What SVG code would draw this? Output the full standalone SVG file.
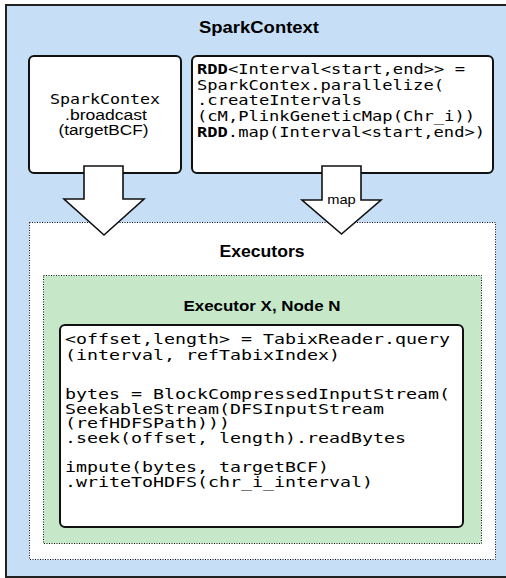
<svg xmlns="http://www.w3.org/2000/svg" width="506" height="578" viewBox="0 0 506 578">
  <style>
    .title { font-family: "Liberation Sans", Arial, sans-serif; font-weight: bold; fill: #000; text-anchor: middle; }
    .sans { font-family: "Liberation Sans", Arial, sans-serif; fill: #000; }
    .mono { font-family: "DejaVu Sans Mono", "Liberation Mono", monospace; fill: #000; }
    .box { fill: #fff; stroke: #111; stroke-width: 2; }
    .dotted { stroke: #111; stroke-width: 1; stroke-dasharray: 1 1.5; }
    .arrow { fill: #fff; stroke: #111; stroke-width: 1.6; stroke-linejoin: miter; }
  </style>

  <!-- driver container -->
  <g id="spark-context">
    <rect x="6" y="5" width="510" height="572" fill="#c6dff6" stroke="#222" stroke-width="2"/>
    <text class="title" x="259" y="33" font-size="16" textLength="120" lengthAdjust="spacingAndGlyphs">SparkContext</text>
  </g>

  <!-- executors container -->
  <g id="executors">
    <rect class="dotted" x="29.5" y="222.5" width="466" height="337" fill="#fff"/>
    <text class="title" x="262" y="257" font-size="16" textLength="85" lengthAdjust="spacingAndGlyphs">Executors</text>
  </g>

  <!-- single executor -->
  <g id="executor-node">
    <rect class="dotted" x="43.5" y="275.5" width="438" height="268" fill="#c6e8c9"/>
    <text class="title" x="262" y="310.5" font-size="15" textLength="157" lengthAdjust="spacingAndGlyphs">Executor X, Node N</text>
  </g>

  <!-- per-interval work -->
  <g id="executor-task">
    <rect class="box" x="60" y="325" width="403" height="202" rx="5"/>
    <g class="mono" font-size="14">
      <text x="65" y="344" textLength="385" lengthAdjust="spacingAndGlyphs">&lt;offset,length&gt; = TabixReader.query</text>
      <text x="65" y="359.5" textLength="275" lengthAdjust="spacingAndGlyphs">(interval, refTabixIndex)</text>
      <text x="65" y="398.5" textLength="385" lengthAdjust="spacingAndGlyphs">bytes = BlockCompressedInputStream(</text>
      <text x="65" y="413.5" textLength="319" lengthAdjust="spacingAndGlyphs">SeekableStream(DFSInputStream</text>
      <text x="65" y="428" textLength="165" lengthAdjust="spacingAndGlyphs">(refHDFSPath)))</text>
      <text x="65" y="442.5" textLength="341" lengthAdjust="spacingAndGlyphs">.seek(offset, length).readBytes</text>
      <text x="65" y="472" textLength="264" lengthAdjust="spacingAndGlyphs">impute(bytes, targetBCF)</text>
      <text x="65" y="487" textLength="308" lengthAdjust="spacingAndGlyphs">.writeToHDFS(chr_i_interval)</text>
    </g>
  </g>

  <!-- broadcast of the target file -->
  <g id="broadcast">
    <rect class="box" x="29" y="56" width="152" height="117" rx="5"/>
    <text class="mono" x="105" y="103.5" font-size="14" text-anchor="middle" textLength="110" lengthAdjust="spacingAndGlyphs">SparkContex</text>
    <text class="sans" x="106" y="120" font-size="14" text-anchor="middle" textLength="82" lengthAdjust="spacingAndGlyphs">.broadcast</text>
    <text class="sans" x="103.5" y="134.5" font-size="14" text-anchor="middle" textLength="90" lengthAdjust="spacingAndGlyphs">(targetBCF)</text>
  </g>

  <!-- interval RDD creation -->
  <g id="interval-rdd">
    <rect class="box" x="192" y="56" width="301" height="117" rx="5"/>
    <g class="mono" font-size="14">
      <text x="197" y="73.5" textLength="268" lengthAdjust="spacingAndGlyphs"><tspan font-weight="bold">RDD</tspan>&lt;Interval&lt;start,end&gt;&gt; =</text>
      <text x="197" y="89.5" textLength="247" lengthAdjust="spacingAndGlyphs">SparkContex.parallelize(</text>
      <text x="197" y="105" textLength="165" lengthAdjust="spacingAndGlyphs">.createIntervals</text>
      <text x="197" y="121" textLength="278" lengthAdjust="spacingAndGlyphs">(cM,PlinkGeneticMap(Chr_i))</text>
      <text x="197" y="137" textLength="288" lengthAdjust="spacingAndGlyphs"><tspan font-weight="bold">RDD</tspan>.map(Interval&lt;start,end&gt;)</text>
    </g>
  </g>

  <!-- block arrows into the executors -->
  <g id="connectors">
    <polygon class="arrow" points="84,166 123,166 123,199 144,199 104,235 64,199 84,199"/>
    <polygon class="arrow" points="322,166 361,166 361,200 381,200 341.5,234 302,200 322,200"/>
    <text class="sans" x="341.5" y="204" font-size="13" text-anchor="middle" textLength="28.5" lengthAdjust="spacingAndGlyphs">map</text>
  </g>
</svg>
